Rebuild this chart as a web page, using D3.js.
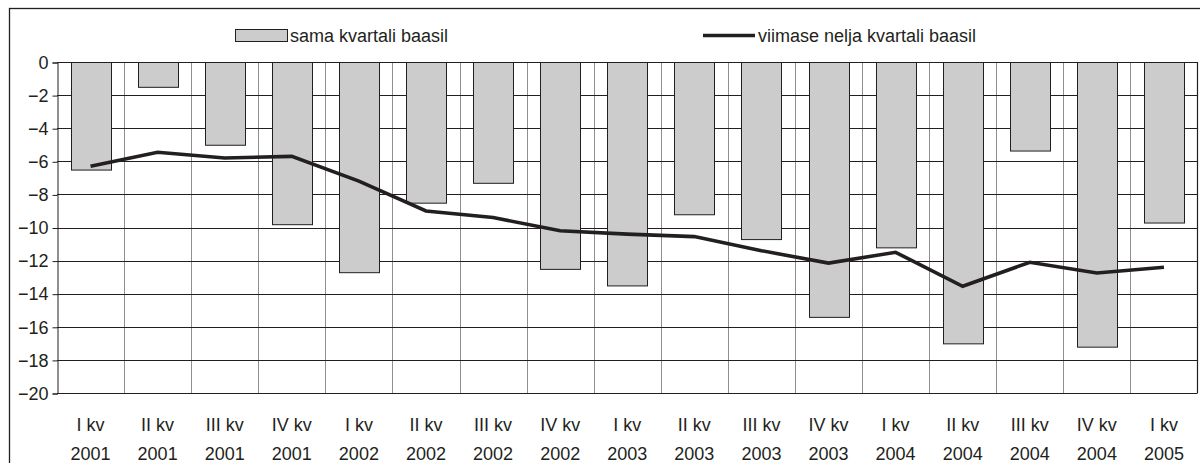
<!DOCTYPE html>
<html>
<head>
<meta charset="utf-8">
<script src="https://d3js.org/d3.v7.min.js"></script>
<style>
  body { margin: 0; background: #fff; }
  svg text { font-family: "Liberation Sans", Arial, sans-serif; fill: #231f20; }
</style>
</head>
<body>
<div id="chart"></div>
<script>

// quarters and years (x axis, two lines)
var quarters = ["I kv","II kv","III kv","IV kv","I kv","II kv","III kv","IV kv","I kv","II kv","III kv","IV kv","I kv","II kv","III kv","IV kv","I kv"];
var years    = ["2001","2001","2001","2001","2002","2002","2002","2002","2003","2003","2003","2003","2004","2004","2004","2004","2005"];

// bars: sama kvartali baasil
var sameQuarter = [-6.5, -1.5, -5.0, -9.8, -12.7, -8.5, -7.3, -12.5, -13.5, -9.2, -10.7, -15.4, -11.2, -17.0, -5.35, -17.2, -9.7];
// line: viimase nelja kvartali baasil
var lastFour = [-6.3, -5.45, -5.8, -5.7, -7.2, -9.0, -9.4, -10.2, -10.4, -10.55, -11.4, -12.15, -11.5, -13.55, -12.1, -12.75, -12.4];

var yTicks = [0, -2, -4, -6, -8, -10, -12, -14, -16, -18, -20];

var W = 1200, H = 463;
var margin = {top: 62, right: 2.5, bottom: 70, left: 57};
var width = W - margin.left - margin.right,
    height = H - margin.top - margin.bottom;

var dark = "#231f20";

var svg = d3.select("#chart").append("svg")
    .attr("width", W)
    .attr("height", H);

// outer frame
svg.append("rect")
    .attr("x", 9.5).attr("y", 8.5)
    .attr("width", W + 20).attr("height", H + 20)
    .attr("fill", "none")
    .attr("stroke", dark)
    .attr("stroke-width", 1.3);

var g = svg.append("g")
    .attr("transform", "translate(" + margin.left + "," + margin.top + ")");

var idx = d3.range(quarters.length);

var x = d3.scaleBand()
    .domain(idx)
    .range([0, width])
    .paddingInner(0)
    .paddingOuter(0);

var y = d3.scaleLinear()
    .domain([-20, 0])
    .range([height, 0]);

// vertical gray grid at category boundaries
g.append("g")
  .selectAll("line")
  .data(idx.slice(1))
  .enter().append("line")
    .attr("x1", function(d){ return Math.round(x(d)) + 0.5; })
    .attr("x2", function(d){ return Math.round(x(d)) + 0.5; })
    .attr("y1", 0)
    .attr("y2", height)
    .attr("stroke", "#8e8e8e")
    .attr("stroke-width", 1);

// horizontal dark grid
g.append("g")
  .selectAll("line")
  .data(yTicks)
  .enter().append("line")
    .attr("x1", 0)
    .attr("x2", width)
    .attr("y1", function(d){ return Math.round(y(d)) + 0.5; })
    .attr("y2", function(d){ return Math.round(y(d)) + 0.5; })
    .attr("stroke", dark)
    .attr("stroke-width", 1);

// y axis
var yAxis = g.append("g")
    .attr("transform", "translate(0.5,0.5)")
    .call(d3.axisLeft(y).tickValues(yTicks).tickSize(5).tickPadding(4).tickFormat(d3.format("d")));
yAxis.select(".domain").attr("stroke", dark);
yAxis.selectAll(".tick line").attr("stroke", dark);
yAxis.selectAll(".tick text")
    .style("font-size", "18px")
    .attr("fill", dark)
    .style("font-family", "Liberation Sans, Arial, sans-serif");

// right border of plot
g.append("line")
    .attr("x1", width).attr("x2", width)
    .attr("y1", 0).attr("y2", height)
    .attr("stroke", dark).attr("stroke-width", 1.2);

// bars
var barW = 40;
g.append("g")
  .selectAll("rect")
  .data(sameQuarter)
  .enter().append("rect")
    .attr("x", function(d, i){ return Math.round(x(i) + x.bandwidth()/2 - barW/2) + 0.5; })
    .attr("y", y(0) + 0.5)
    .attr("width", barW)
    .attr("height", function(d){ return y(d) - y(0); })
    .attr("fill", "#cccccc")
    .attr("stroke", dark)
    .attr("stroke-width", 1);

// line
var line = d3.line()
    .x(function(d, i){ return x(i) + x.bandwidth()/2; })
    .y(function(d){ return y(d); });

g.append("path")
    .datum(lastFour)
    .attr("d", line)
    .attr("fill", "none")
    .attr("stroke", dark)
    .attr("stroke-width", 3.6)
    .attr("stroke-linejoin", "miter");

// x labels
var xl = g.append("g").selectAll("text")
  .data(idx)
  .enter().append("text")
    .attr("x", function(d){ return x(d) + x.bandwidth()/2; })
    .attr("text-anchor", "middle")
    .style("font-size", "18px");
xl.append("tspan")
    .attr("x", function(d){ return x(d) + x.bandwidth()/2; })
    .attr("y", 368.5)
    .text(function(d){ return quarters[d]; });
xl.append("tspan")
    .attr("x", function(d){ return x(d) + x.bandwidth()/2; })
    .attr("y", 397.5)
    .text(function(d){ return years[d]; });

// legend
svg.append("rect")
    .attr("x", 235.5).attr("y", 29.5)
    .attr("width", 52).attr("height", 12)
    .attr("fill", "#cccccc")
    .attr("stroke", dark)
    .attr("stroke-width", 1);
svg.append("text")
    .attr("x", 290).attr("y", 41.5)
    .style("font-size", "18px")
    .text("sama kvartali baasil");

svg.append("line")
    .attr("x1", 703).attr("x2", 755)
    .attr("y1", 35.5).attr("y2", 35.5)
    .attr("stroke", dark)
    .attr("stroke-width", 3.6);
svg.append("text")
    .attr("x", 758).attr("y", 41.5)
    .style("font-size", "18px")
    .text("viimase nelja kvartali baasil");

</script>
</body>
</html>
